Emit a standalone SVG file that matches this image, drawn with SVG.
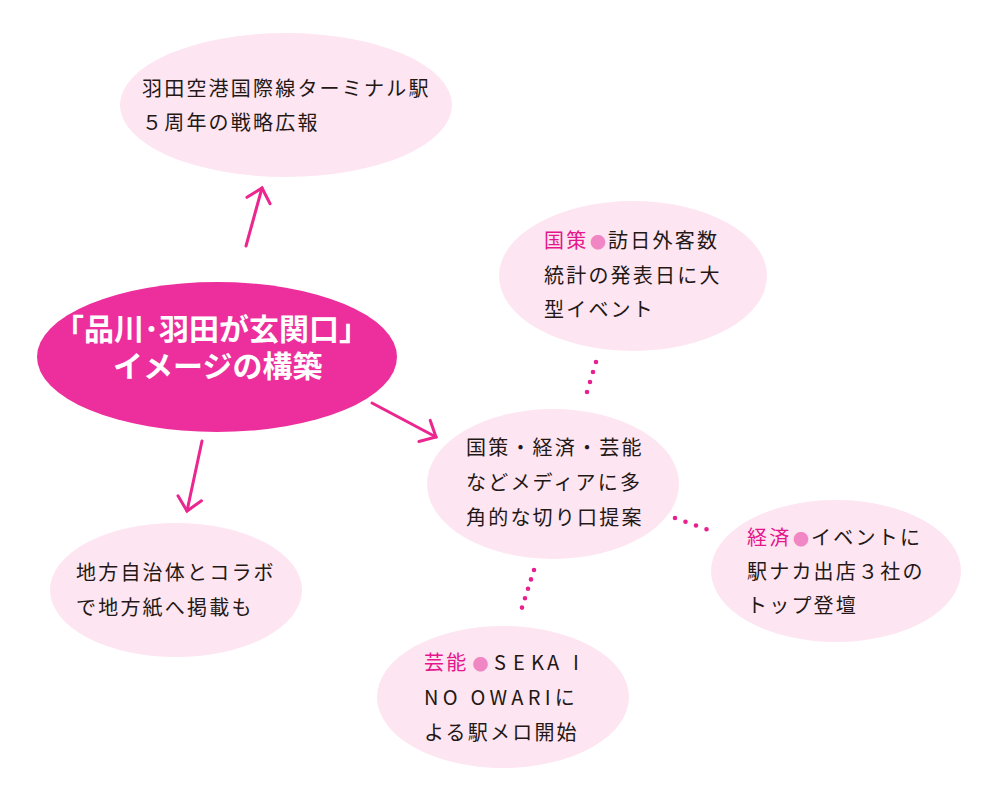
<svg xmlns="http://www.w3.org/2000/svg" width="1000" height="793" viewBox="0 0 1000 793">
<style>
.bg{fill:#ffffff}
.node{fill:#fde5f2}
.main{fill:#ec2f9c}
.t{font-family:"Noto Sans CJK JP","Noto Sans CJK SC",sans-serif;font-size:20px;fill:#231815;letter-spacing:2.2px}
.hl{fill:#e5158b}
.dot{fill:#f086c3;font-size:16px}
.ct{font-family:"Noto Sans CJK JP","Noto Sans CJK SC",sans-serif;font-weight:700;font-size:30px;fill:#ffffff}
.arrow{stroke:#eb268f;stroke-width:3;fill:none;stroke-linecap:round}
.dots{stroke:#e8208f;stroke-width:4.6;fill:none;stroke-linecap:round}
</style>
<defs>
<marker id="ah" markerUnits="userSpaceOnUse" orient="auto" markerWidth="40" markerHeight="40" refX="0" refY="0" viewBox="-20 -20 40 40" overflow="visible">
<path d="M -13 -12 L 0 0 L -13 12" fill="none" stroke="#eb268f" stroke-width="3" stroke-linecap="round" stroke-linejoin="miter"/>
</marker>
</defs>
<rect class="bg" x="0" y="0" width="1000" height="793"/>

<g id="n-top">
<ellipse class="node" cx="286" cy="105" rx="166" ry="72"/>
<text class="t" x="142" y="96">羽田空港国際線ターミナル駅</text>
<text class="t" x="142" y="130">５周年の戦略広報</text>
</g>

<g id="n-main">
<ellipse class="main" cx="217" cy="357" rx="180" ry="75"/>
<text class="ct" x="54" y="340">「品川･羽田が玄関口」</text>
<text class="ct" x="113" y="377">イメージの構築</text>
</g>

<g id="n-kokusaku">
<ellipse class="node" cx="633" cy="276" rx="134" ry="75"/>
<text class="t" x="544" y="248"><tspan class="hl">国策</tspan><tspan class="dot" dx="1.5">●</tspan><tspan dx="0">訪日外客数</tspan></text>
<text class="t" x="544" y="283">統計の発表日に大</text>
<text class="t" x="544" y="317">型イベント</text>
</g>

<g id="n-center">
<ellipse class="node" cx="553" cy="484" rx="126" ry="75"/>
<text class="t" x="466" y="455">国策・経済・芸能</text>
<text class="t" x="466" y="490">などメディアに多</text>
<text class="t" x="466" y="525">角的な切り口提案</text>
</g>

<g id="n-keizai">
<ellipse class="node" cx="836" cy="571" rx="125" ry="71"/>
<text class="t" x="747" y="545"><tspan class="hl">経済</tspan><tspan class="dot" dx="1.5">●</tspan><tspan dx="0">イベントに</tspan></text>
<text class="t" x="747" y="579">駅ナカ出店３社の</text>
<text class="t" x="747" y="613">トップ登壇</text>
</g>

<g id="n-geino">
<ellipse class="node" cx="503" cy="697" rx="126" ry="71"/>
<text class="t" x="424" y="670"><tspan class="hl">芸能</tspan><tspan class="dot" dx="4">●</tspan><tspan x="494 513 531 547 573">SEKAI</tspan></text>
<text class="t" x="424" y="705" textLength="153" lengthAdjust="spacing">NO OWARIに</text>
<text class="t" x="424" y="740">よる駅メロ開始</text>
</g>

<g id="n-chiho">
<ellipse class="node" cx="176" cy="590" rx="126" ry="67"/>
<text class="t" x="76" y="580">地方自治体とコラボ</text>
<text class="t" x="76" y="615">で地方紙へ掲載も</text>
</g>

<g id="connectors">
<line class="arrow" x1="246" y1="246" x2="262" y2="188" marker-end="url(#ah)"/>
<line class="arrow" x1="202" y1="441" x2="187" y2="511" marker-end="url(#ah)"/>
<line class="arrow" x1="372" y1="403" x2="436" y2="437" marker-end="url(#ah)"/>
<line class="dots" x1="596" y1="362" x2="584" y2="402" stroke-dasharray="0 10.45"/>
<line class="dots" x1="675" y1="518" x2="717" y2="533" stroke-dasharray="0 11.15"/>
<line class="dots" x1="534" y1="570" x2="519" y2="617" stroke-dasharray="0 9.87"/>
</g>
</svg>
